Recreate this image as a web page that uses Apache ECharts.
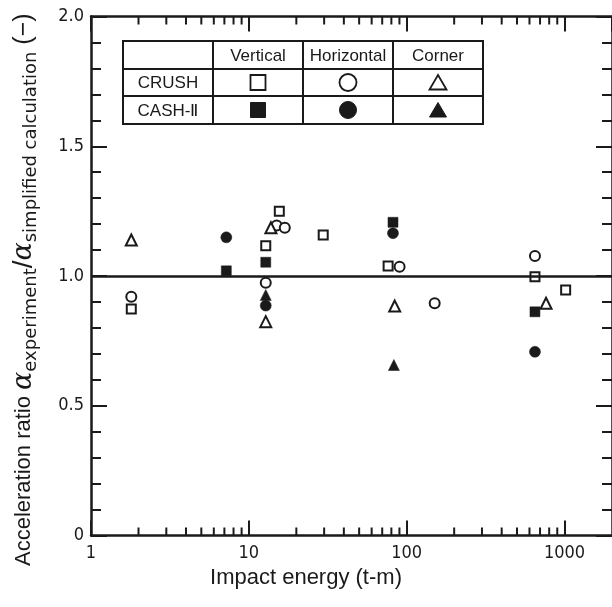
<!DOCTYPE html>
<html>
<head>
<meta charset="utf-8">
<script src="https://cdn.jsdelivr.net/npm/echarts@6/dist/echarts.min.js"></script>
<style>html,body{margin:0;padding:0;background:#fff;}#c{width:612px;height:607px;}</style>
</head>
<body>
<div id="c"></div>
<script>
// ---- data (impact energy t-m, acceleration ratio) ----
const crushVerticalX   = [1.8, 12.8, 15.6, 29.6, 76.3, 650, 1017];
const crushVerticalY   = [0.873, 1.117, 1.250, 1.158, 1.039, 0.997, 0.946];
const crushHorizontalX = [1.8, 12.8, 15.0, 16.9, 90.2, 150.5, 650];
const crushHorizontalY = [0.920, 0.974, 1.195, 1.186, 1.036, 0.895, 1.077];
const crushCornerX     = [1.8, 12.8, 13.8, 84, 764];
const crushCornerY     = [1.139, 0.824, 1.186, 0.884, 0.895];
const cashVerticalX    = [7.2, 12.8, 81.9, 650];
const cashVerticalY    = [1.020, 1.053, 1.207, 0.862];
const cashHorizontalX  = [7.2, 12.8, 81.9, 650];
const cashHorizontalY  = [1.149, 0.886, 1.165, 0.708];
const cashCornerX      = [12.8, 83];
const cashCornerY      = [0.927, 0.657];

const xMajorLabels = [1, 10, 100, 1000];
const xMinorTicks  = [2,3,4,5,6,7,8,9,20,30,40,50,60,70,80,90,200,300,400,500,600,700,800,900];
const yTickLabels  = [0, 0.5, 1.0, 1.5, 2.0];
const referenceRatio = 1.0;

const ink = '#1a1a1a';
const tickFont = "'DejaVu Sans Condensed', 'Liberation Sans Narrow', 'Liberation Sans', sans-serif";
const textFont = "'Liberation Sans', Arial, sans-serif";

function pairs(xs, ys) { return xs.map((x, i) => [x, ys[i]]); }

const chart = echarts.init(document.getElementById('c'), null, {renderer: 'canvas'});

const gridL = 91, gridT = 16.5, gridW = 530, gridH = 519;

function openStyle() { return {color: '#fff', borderColor: ink, borderWidth: 2, opacity: 1}; }
function fillStyle() { return {color: ink, borderColor: ink, borderWidth: 0.5, opacity: 1}; }

const xCommon = {
  type: 'log', logBase: 10, min: 1, max: 2000,
  axisLine: {show: true, onZero: false, lineStyle: {color: ink, width: 2.5}},
  axisTick: {show: true, inside: true, length: 15, lineStyle: {color: ink, width: 2}},
  splitLine: {show: false}
};
const yCommon = {
  type: 'value', min: 0, max: 2, interval: 0.5,
  axisLine: {show: true, onZero: false, lineStyle: {color: ink, width: 2.5}},
  axisTick: {show: true, inside: true, length: 16, lineStyle: {color: ink, width: 2}},
  minorTick: {show: true, splitNumber: 5, length: 10, lineStyle: {color: ink, width: 2}},
  splitLine: {show: false}
};

const option = {
  animation: false,
  backgroundColor: '#fff',
  grid: {left: gridL, top: gridT, width: gridW, height: gridH, containLabel: false},
  xAxis: [
    Object.assign({}, xCommon, {
      position: 'bottom',
      axisLabel: {
        show: true, margin: 9, color: ink, fontSize: 18, fontFamily: tickFont,
        showMinLabel: true, showMaxLabel: false,
        formatter: v => xMajorLabels.some(m => Math.abs(m - v) < 1e-6) ? String(Math.round(v)) : ''
      }
    }),
    Object.assign({}, xCommon, {position: 'top', axisLabel: {show: false}})
  ],
  yAxis: [
    Object.assign({}, yCommon, {
      position: 'left',
      axisLabel: {
        show: true, margin: 7, color: ink, fontSize: 18, fontFamily: tickFont,
        formatter: v => yTickLabels.includes(v) ? (v === 0 ? '0' : v.toFixed(1)) : ''
      }
    }),
    Object.assign({}, yCommon, {position: 'right', axisLabel: {show: false}})
  ],
  series: [
    // minor ticks of the log axes (drawn through the scales)
    {type: 'scatter', silent: true, clip: false, z: 1, symbol: 'rect', symbolSize: [2, 8], symbolOffset: [0, -4],
     itemStyle: {color: ink, opacity: 1}, data: xMinorTicks.map(v => [v, 0]),
     markLine: {silent: true, symbol: 'none', label: {show: false}, lineStyle: {color: ink, width: 2.5, type: 'solid', opacity: 1},
                data: [{yAxis: referenceRatio}]}},
    {type: 'scatter', silent: true, clip: false, z: 1, symbol: 'rect', symbolSize: [2, 8], symbolOffset: [0, 4],
     itemStyle: {color: ink, opacity: 1}, data: xMinorTicks.map(v => [v, 2])},
    // data
    {name: 'CRUSH Vertical', type: 'scatter', z: 3, symbol: 'rect', symbolSize: 9, itemStyle: openStyle(), data: pairs(crushVerticalX, crushVerticalY)},
    {name: 'CRUSH Horizontal', type: 'scatter', z: 3, symbol: 'circle', symbolSize: 10, itemStyle: openStyle(), data: pairs(crushHorizontalX, crushHorizontalY)},
    {name: 'CRUSH Corner', type: 'scatter', z: 3, symbol: 'triangle', symbolSize: 11, itemStyle: openStyle(), data: pairs(crushCornerX, crushCornerY)},
    {name: 'CASH-II Vertical', type: 'scatter', z: 4, symbol: 'rect', symbolSize: 10, itemStyle: fillStyle(), data: pairs(cashVerticalX, cashVerticalY)},
    {name: 'CASH-II Horizontal', type: 'scatter', z: 4, symbol: 'circle', symbolSize: 11, itemStyle: fillStyle(), data: pairs(cashHorizontalX, cashHorizontalY)},
    {name: 'CASH-II Corner', type: 'scatter', z: 4, symbol: 'triangle', symbolSize: 11, itemStyle: fillStyle(), data: pairs(cashCornerX, cashCornerY)}
  ],
  graphic: []
};

// ---- legend table ----
const tX = [123, 213, 303, 393, 483], tY = [41, 69, 96, 124];
const tbl = [];
tbl.push({type: 'rect', shape: {x: tX[0], y: tY[0], width: tX[4] - tX[0], height: tY[3] - tY[0]},
          style: {fill: '#fff', stroke: ink, lineWidth: 2}, z: 10});
for (let i = 1; i < 4; i++) tbl.push({type: 'line', shape: {x1: tX[i], y1: tY[0], x2: tX[i], y2: tY[3]}, style: {stroke: ink, lineWidth: 2}, z: 11});
for (let j = 1; j < 3; j++) tbl.push({type: 'line', shape: {x1: tX[0], y1: tY[j], x2: tX[4], y2: tY[j]}, style: {stroke: ink, lineWidth: 2}, z: 11});
const colHead = ['Vertical', 'Horizontal', 'Corner'];
const rowHead = ['CRUSH', 'CASH-Ⅱ'];
colHead.forEach((t, i) => tbl.push({type: 'text', z: 12, x: (tX[i + 1] + tX[i + 2]) / 2, y: (tY[0] + tY[1]) / 2 + 1,
  style: {text: t, fill: ink, font: '17px ' + textFont, align: 'center', verticalAlign: 'middle'}}));
rowHead.forEach((t, j) => tbl.push({type: 'text', z: 12, x: (tX[0] + tX[1]) / 2, y: (tY[j + 1] + tY[j + 2]) / 2 + 1,
  style: {text: t, fill: ink, font: '17px ' + textFont, align: 'center', verticalAlign: 'middle'}}));
const symKinds = ['rect', 'circle', 'triangle'];
for (let j = 0; j < 2; j++) {
  for (let i = 0; i < 3; i++) {
    const cx = (tX[i + 1] + tX[i + 2]) / 2, cy = (tY[j + 1] + tY[j + 2]) / 2;
    const st = j === 0 ? {fill: '#fff', stroke: ink, lineWidth: 1.8} : {fill: ink, stroke: ink, lineWidth: 1};
    let el;
    if (symKinds[i] === 'rect') el = {type: 'rect', shape: {x: cx - 7.5, y: cy - 7.5, width: 15, height: 15}};
    else if (symKinds[i] === 'circle') el = {type: 'circle', shape: {cx: cx, cy: cy, r: 8.5}};
    else el = {type: 'polygon', shape: {points: [[cx, cy - 7.5], [cx + 8.5, cy + 7], [cx - 8.5, cy + 7]]}};
    el.style = st; el.z = 12;
    tbl.push(el);
  }
}
option.graphic.push(...tbl);

// ---- axis titles ----
option.graphic.push({
  type: 'text', z: 12, x: 306, y: 578,
  style: {text: 'Impact energy (t-m)', fill: ink, font: '22px ' + textFont, align: 'center', verticalAlign: 'middle'}
});
option.graphic.push({
  type: 'text', z: 12, x: 24, y: 566, rotation: Math.PI / 2,
  style: {
    text: '{m|Acceleration ratio }{a|α}{s|experiment}{sl|/}{a|α}{s|simplified calculation}{p| (−)}',
    align: 'left', verticalAlign: 'middle', fill: ink,
    rich: {
      m: {fontSize: 22, fontFamily: textFont, fill: ink, lineHeight: 32, verticalAlign: 'middle'},
      sl: {fontSize: 28, fontFamily: textFont, fill: ink, lineHeight: 32, verticalAlign: 'middle'},
      p: {fontSize: 25, fontFamily: textFont, fill: ink, lineHeight: 32, verticalAlign: 'middle'},
      a: {fontSize: 27, fontFamily: "'DejaVu Serif', serif", fontStyle: 'italic', fill: ink, lineHeight: 32, verticalAlign: 'middle'},
      s: {fontSize: 18, fontFamily: "'DejaVu Sans', sans-serif", fill: ink, lineHeight: 22, verticalAlign: 'bottom'}
    }
  }
});

chart.setOption(option);
</script>
</body>
</html>
